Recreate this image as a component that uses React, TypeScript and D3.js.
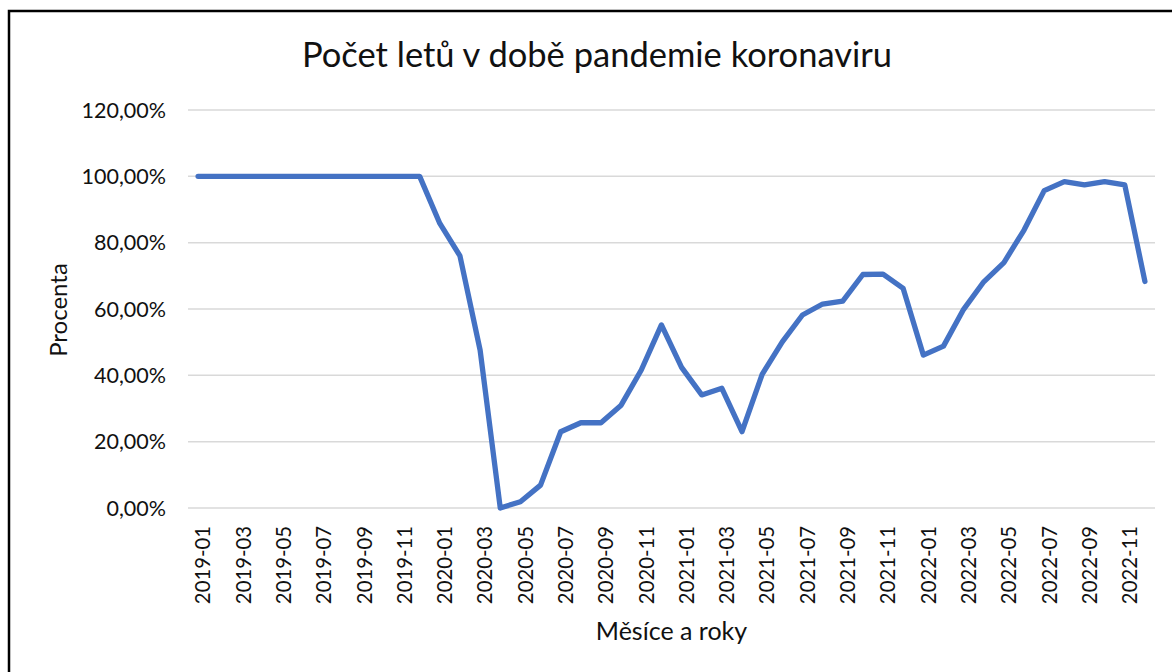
import React from "react";
import * as d3 from "d3";

const months: string[] = [
  "2019-01","2019-02","2019-03","2019-04","2019-05","2019-06","2019-07","2019-08","2019-09","2019-10","2019-11","2019-12",
  "2020-01","2020-02","2020-03","2020-04","2020-05","2020-06","2020-07","2020-08","2020-09","2020-10","2020-11","2020-12",
  "2021-01","2021-02","2021-03","2021-04","2021-05","2021-06","2021-07","2021-08","2021-09","2021-10","2021-11","2021-12",
  "2022-01","2022-02","2022-03","2022-04","2022-05","2022-06","2022-07","2022-08","2022-09","2022-10","2022-11","2022-12",
];

const percent: number[] = [
  100, 100, 100, 100, 100, 100, 100, 100, 100, 100, 100, 100,
  85.8, 76.0, 47.6, 0.0, 1.9, 6.9, 23.0, 25.7, 25.7, 31.0, 41.6, 55.2,
  42.4, 34.1, 36.1, 23.0, 40.3, 50.1, 58.2, 61.5, 62.4, 70.4, 70.5, 66.2,
  46.1, 48.8, 59.9, 68.2, 74.0, 83.8, 95.7, 98.4, 97.4, 98.4, 97.4, 68.3,
];

const yTicks: number[] = [0, 20, 40, 60, 80, 100, 120];
const tickLabelEvery = 2;

const title = "Počet letů v době pandemie koronaviru";
const xTitle = "Měsíce a roky";
const yTitle = "Procenta";

export default function App() {
  const W = 1172;
  const H = 672;
  const plot = { left: 188, right: 1155, top: 110, bottom: 508 };
  const font = "Lato, 'Open Sans', sans-serif";

  const x = d3.scalePoint<string>().domain(months).range([plot.left, plot.right]).padding(0.5);
  const y = d3.scaleLinear().domain([0, 120]).range([plot.bottom, plot.top]);

  const line = d3
    .line<number>()
    .x((_, i) => x(months[i]) as number)
    .y((d) => y(d));

  const fmt = (v: number) => v.toFixed(2).replace(".", ",") + "%";

  return (
    <svg
      width={W}
      height={H}
      style={{ position: "absolute", left: 0, top: 0, background: "#fff" }}
    >
      <rect x={0} y={0} width={W} height={H} fill="#fff" />
      <rect x={9} y={11} width={W + 40} height={H + 40} fill="none" stroke="#000" strokeWidth={2.5} />
      <text x={597} y={67} textAnchor="middle" fontFamily={font} fontSize={34.5} fill="#111">
        {title}
      </text>
      {yTicks.map((t) => (
        <g key={t}>
          <line x1={plot.left} x2={plot.right} y1={y(t)} y2={y(t)} stroke="#d9d9d9" strokeWidth={1.5} />
          <text
            x={166}
            y={y(t)}
            dy="0.36em"
            textAnchor="end"
            fontFamily={font}
            fontSize={21.5}
            fill="#111"
          >
            {fmt(t)}
          </text>
        </g>
      ))}
      {months.map((m, i) =>
        i % tickLabelEvery === 0 ? (
          <text
            key={m}
            transform={`translate(${(x(m) as number) + 5},526) rotate(-90)`}
            textAnchor="end"
            dy="0.36em"
            fontFamily={font}
            fontSize={20.3}
            fill="#111"
          >
            {m}
          </text>
        ) : null
      )}
      <path
        d={line(percent) || ""}
        fill="none"
        stroke="#4472C4"
        strokeWidth={5.3}
        strokeLinejoin="round"
        strokeLinecap="round"
      />
      <text x={(plot.left + plot.right) / 2} y={640} textAnchor="middle" fontFamily={font} fontSize={25} fill="#111">
        {xTitle}
      </text>
      <text
        transform={`translate(67,310) rotate(-90)`}
        textAnchor="middle"
        fontFamily={font}
        fontSize={24}
        fill="#111"
      >
        {yTitle}
      </text>
    </svg>
  );
}
